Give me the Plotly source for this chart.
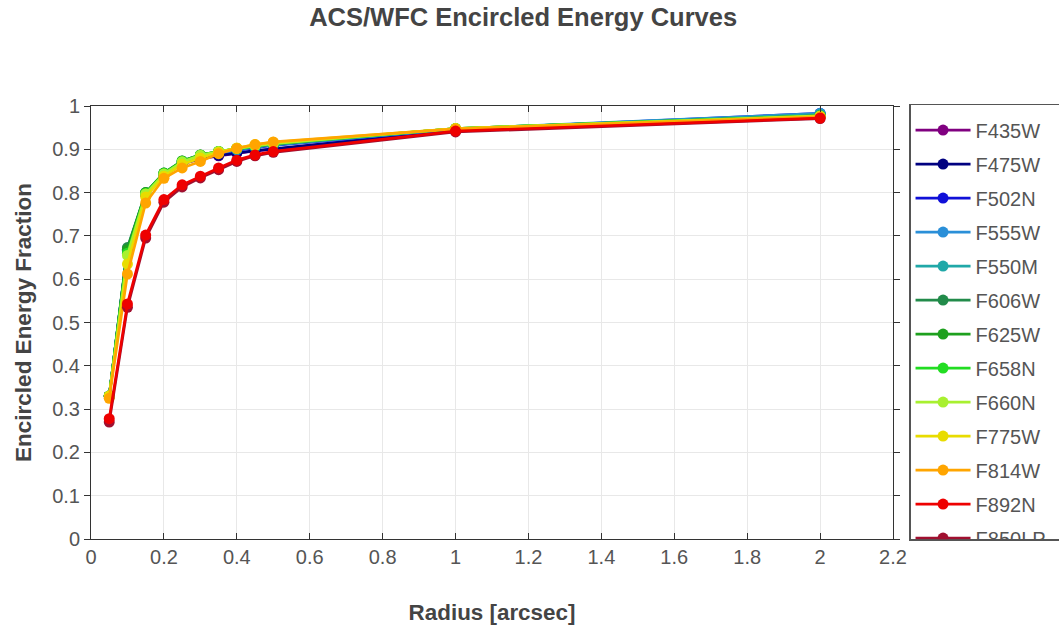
import plotly.graph_objects as go

# Aperture radii (arcsec)
radius = [0.05, 0.10, 0.15, 0.20, 0.25, 0.30, 0.35, 0.40, 0.45, 0.50, 1.0, 2.0]

# Encircled energy fraction per filter
ee_f435w = [0.330, 0.665, 0.795, 0.840, 0.866, 0.878, 0.885, 0.891, 0.896, 0.900, 0.943, 0.980]
ee_f475w = [0.330, 0.667, 0.796, 0.841, 0.867, 0.880, 0.886, 0.892, 0.897, 0.901, 0.944, 0.981]
ee_f502n = [0.330, 0.668, 0.797, 0.842, 0.869, 0.883, 0.891, 0.898, 0.904, 0.909, 0.946, 0.983]
ee_f555w = [0.330, 0.669, 0.798, 0.843, 0.870, 0.884, 0.892, 0.899, 0.905, 0.910, 0.947, 0.983]
ee_f550m = [0.330, 0.670, 0.799, 0.844, 0.871, 0.885, 0.893, 0.900, 0.906, 0.911, 0.947, 0.981]
ee_f606w = [0.330, 0.673, 0.800, 0.845, 0.873, 0.887, 0.895, 0.901, 0.907, 0.912, 0.948, 0.978]
ee_f625w = [0.330, 0.668, 0.800, 0.845, 0.873, 0.887, 0.895, 0.902, 0.908, 0.913, 0.948, 0.977]
ee_f658n = [0.330, 0.660, 0.798, 0.844, 0.872, 0.886, 0.895, 0.902, 0.908, 0.913, 0.948, 0.977]
ee_f660n = [0.330, 0.655, 0.797, 0.843, 0.871, 0.886, 0.895, 0.902, 0.908, 0.913, 0.948, 0.977]
ee_f775w = [0.330, 0.635, 0.790, 0.838, 0.865, 0.880, 0.893, 0.903, 0.911, 0.916, 0.948, 0.976]
ee_f814w = [0.325, 0.612, 0.776, 0.833, 0.857, 0.872, 0.890, 0.902, 0.911, 0.917, 0.947, 0.975]
ee_f892n = [0.278, 0.543, 0.702, 0.784, 0.818, 0.838, 0.857, 0.875, 0.887, 0.895, 0.942, 0.972]
ee_f850lp = [0.270, 0.535, 0.695, 0.778, 0.813, 0.834, 0.853, 0.872, 0.885, 0.893, 0.940, 0.971]

filters = ["F435W", "F475W", "F502N", "F555W", "F550M", "F606W", "F625W",
           "F658N", "F660N", "F775W", "F814W", "F892N", "F850LP"]
curves = [ee_f435w, ee_f475w, ee_f502n, ee_f555w, ee_f550m, ee_f606w, ee_f625w,
          ee_f658n, ee_f660n, ee_f775w, ee_f814w, ee_f892n, ee_f850lp]
colors = ["#800080", "#000080", "#1010d8", "#2a8fd8", "#20a8a8", "#228b4a", "#1ea01e",
          "#22dd22", "#a8f030", "#e8dc00", "#ffa500", "#ee0000", "#a01030"]

# F892N is drawn last so the bright red curve sits on top; legend keeps filter order
draw_order = [0, 1, 2, 3, 4, 5, 6, 7, 8, 9, 10, 12, 11]

TEXT = "#555555"
FONT = "Liberation Sans, Arial"

fig = go.Figure()
for i in draw_order:
    fig.add_trace(go.Scatter(
        x=radius, y=curves[i], name=filters[i], legendgroup=filters[i],
        legendrank=i + 1,
        mode="lines+markers",
        line=dict(color=colors[i], width=2.7),
        marker=dict(color=colors[i], size=11),
    ))

axis_common = dict(
    showline=True, linecolor="#333333", linewidth=1, mirror="ticks",
    showgrid=True, gridcolor="#e8e8e8", gridwidth=1,
    zeroline=False, ticklen=6, tickcolor="#333333",
    tickfont=dict(family=FONT, size=20, color=TEXT),
)

fig.update_layout(
    width=1059, height=632,
    paper_bgcolor="white", plot_bgcolor="white",
    margin=dict(l=91, r=166, t=106, b=93, autoexpand=False),
    title=dict(text="<b>ACS/WFC Encircled Energy Curves</b>", x=0.494, xanchor="center",
               y=1 - 17 / 632, yanchor="middle",
               font=dict(family=FONT, size=25.5, color="#444444")),
    xaxis=dict(range=[0, 2.2], dtick=0.2, ticks="inside",
               title=dict(text="<b>Radius [arcsec]</b>", standoff=37,
                          font=dict(family=FONT, size=22.4, color="#444444")),
               **axis_common),
    yaxis=dict(range=[0, 1], dtick=0.1, ticks="outside",
               title=dict(text="<b>Encircled Energy Fraction</b>", standoff=14,
                          font=dict(family=FONT, size=22.5, color="#444444")),
               **axis_common),
    legend=dict(x=1.02, xanchor="left", y=1.005, yanchor="top",
                bordercolor="#555555", borderwidth=1.5, bgcolor="white",
                itemwidth=55, tracegroupgap=5, traceorder="grouped",
                maxheight=437, entrywidth=220, entrywidthmode="pixels",
                title=dict(text="&nbsp;", font=dict(size=4)),
                font=dict(family=FONT, size=20, color=TEXT)),
    showlegend=True,
)

fig.write_html(
    "out.html",
    post_script="document.querySelectorAll('.legend .scrollbar').forEach(function(e){e.style.display='none';});",
)
